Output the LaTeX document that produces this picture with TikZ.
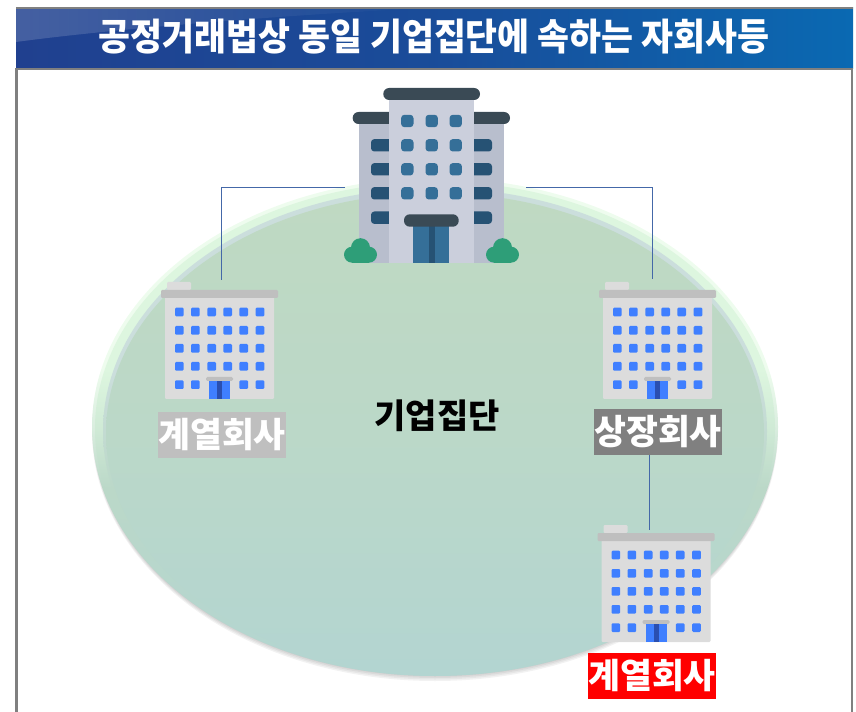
\documentclass[tikz,border=0pt]{standalone}
\usepackage{fontspec}
\usepackage{graphicx}
\usetikzlibrary{fadings}
\newfontfamily\krfont{Noto Sans CJK KR}
\definecolor{framegray}{HTML}{808080}
\definecolor{hdrA}{HTML}{20408F}
\definecolor{hdrB}{HTML}{0A69B2}
\definecolor{linkblue}{HTML}{4468A8}
\definecolor{slate}{HTML}{3A4A55}
\definecolor{sidewall}{HTML}{B8BECD}
\definecolor{midwall}{HTML}{CBCFDC}
\definecolor{winlight}{HTML}{356F98}
\definecolor{windark}{HTML}{265274}
\definecolor{bushgreen}{HTML}{2E9E78}
\definecolor{blockwall}{HTML}{DCDCDC}
\definecolor{blockroof}{HTML}{BFBFBF}
\definecolor{blockwin}{HTML}{3F7FFF}
\definecolor{blockdark}{HTML}{2A4FB0}
\definecolor{bodytop}{HTML}{BFD9C2}
\definecolor{bodybot}{HTML}{B3D5D1}
\definecolor{bodymid}{HTML}{BBD8C8}
\definecolor{rimpale}{HTML}{EEFCEE}
\definecolor{rimlight}{HTML}{DDF6DF}
\definecolor{rimring}{HTML}{CBDEDC}
% rims: the path spans 25bp (bottom of ellipse) to 75bp (top of ellipse)
\pgfdeclareverticalshading{rimpaleS}{100bp}{color(0bp)=(bodybot);color(25bp)=(bodybot);color(44bp)=(bodymid);color(50bp)=(rimpale!60!bodymid);color(56bp)=(rimpale);color(100bp)=(rimpale)}
\pgfdeclareverticalshading{rimlightS}{100bp}{color(0bp)=(bodybot);color(25bp)=(bodybot);color(44bp)=(bodymid);color(50bp)=(rimlight!60!bodymid);color(56bp)=(rimlight);color(100bp)=(rimlight)}
\pgfdeclareverticalshading{rimringS}{100bp}{color(0bp)=(bodybot);color(25bp)=(bodybot);color(44bp)=(bodymid);color(56bp)=(rimring);color(100bp)=(rimring)}
\tikzset{
  kr/.style={font=\krfont\bfseries},
  tag/.style={text=white,font=\krfont\bfseries\fontsize{26pt}{26pt}\selectfont,inner sep=0pt,minimum width=96pt,minimum height=34.5pt},
  link/.style={draw=linkblue,line width=0.6pt},
  pics/officeblock/.style={code={
    \fill[blockwall,rounded corners=0.8pt] (2,-15) rectangle (26,-7);
    \fill[blockwall,rounded corners=0.8pt] (0,0) rectangle (109,102);
    \fill[blockroof,rounded corners=0.8pt] (-4,-7) rectangle (113,1);
    \foreach \wx in {14.3,30.3,46.7,62.7,78.7,95}{
      \foreach \wy in {15,33.3,51.3,69.3}{
        \fill[blockwin,rounded corners=0.8pt] (\wx-4.3,\wy-4.3) rectangle (\wx+4.3,\wy+4.3);
      }
    }
    \foreach \wx in {14.3,30.3,78.7,95}{
      \fill[blockwin,rounded corners=0.8pt] (\wx-4.3,83.4) rectangle (\wx+4.3,92);
    }
    \fill[blockroof,rounded corners=1pt] (41,80) rectangle (68,84);
    \fill[blockwin] (44,84) rectangle (65,102);
    \fill[blockdark] (52,84) rectangle (57,102);
  }},
  pics/shrub/.style={code={
    \fill[bushgreen] (8,-8) circle[radius=8] (25,-8) circle[radius=8] (16.5,-15) circle[radius=9.5];
    \fill[bushgreen] (8,-9) rectangle (25,0);
  }}
}
\begin{document}
\begin{tikzpicture}[x=0.75pt,y=-0.75pt]
\useasboundingbox (0,0) rectangle (856,712);
% header
\fill[left color=hdrA,right color=hdrB,middle color=hdrA!70!hdrB] (16,8) rectangle (853,69);
\fill[white,opacity=.17,path fading=east] (16,8) -- (430,8) .. controls (300,14) and (120,28) .. (16,42) -- cycle;
\draw[framegray,line width=0.8pt] (16,8) -- (853,8);
\node[kr,text=white,inner sep=0pt] (title) at (434,37) {\scalebox{0.93}[1]{\fontsize{28pt}{28pt}\selectfont 공정거래법상 동일 기업집단에 속하는 자회사등}};
% frame
\draw[framegray,line width=1.6pt] (16.5,712) -- (16.5,69) -- (852,69) -- (852,712);
% ellipse shadow
\foreach \d in {0,1.5,3,4.5,6}{
  \fill[black,opacity=.05] (435,431) ellipse[x radius=343-\d*0.4,y radius=250-\d];
}
% ellipse with rim
\path[shading=rimpaleS] (435,427) ellipse[x radius=343,y radius=249];
\path[shading=rimlightS] (435,428.5) ellipse[x radius=340,y radius=247];
\path[shading=rimringS] (435,431) ellipse[x radius=332,y radius=243];
\path[top color=bodytop,bottom color=bodybot,middle color=bodymid] (435,433) ellipse[x radius=329,y radius=240];
% main building
\fill[sidewall] (359,118) rectangle (504,262.7);
\fill[slate,rounded corners=4.4pt] (352.7,112) rectangle (510,124);
\foreach \wy in {145.3,169.3,193.3,217.7}{
  \fill[windark,rounded corners=2.5pt] (371,\wy-6.2) rectangle (395,\wy+6.2);
  \fill[windark,rounded corners=2.5pt] (468,\wy-6.2) rectangle (492,\wy+6.2);
}
\fill[midwall] (389.3,95) rectangle (473.7,262.7);
\fill[slate,rounded corners=4.4pt] (383.3,88) rectangle (480,100);
\foreach \wx in {407.3,431.7,455.7}{
  \foreach \wy in {121,145.3,169.3,193.3}{
    \fill[winlight,rounded corners=2.5pt] (\wx-6.2,\wy-6.2) rectangle (\wx+6.2,\wy+6.2);
  }
}
\fill[winlight] (413.3,222) rectangle (449.3,262.7);
\fill[windark] (428.7,222) rectangle (434.7,262.7);
\fill[slate,rounded corners=4.4pt] (404,214.3) rectangle (458.7,226.7);
\pic at (344,262.7) {shrub};
\pic at (486,262.7) {shrub};
% office blocks
\pic at (165,297) {officeblock};
\pic at (603,297) {officeblock};
\pic at (601.5,540) {officeblock};
% labels
\node[tag,fill=blockroof] (lblA) at (222,435) {계열회사};
\node[tag,fill=framegray] (lblB) at (658,432) {상장회사};
\node[tag,fill=red] (lblC) at (652,676) {계열회사};
\node[inner sep=0pt,font=\krfont\bfseries\fontsize{25.5pt}{25.5pt}\selectfont] (group) at (437,416) {기업집단};
% connectors
\coordinate (hqW) at (345,187);
\coordinate (hqE) at (526,187);
\coordinate (blockA) at (221,280);
\coordinate (blockB) at (652,279);
\coordinate (blockC) at (649,530);
\draw[link] (hqW) -| (blockA);
\draw[link] (hqE) -| (blockB);
\draw[link] (lblB.south -| blockC) -- (blockC);
\end{tikzpicture}
\end{document}
